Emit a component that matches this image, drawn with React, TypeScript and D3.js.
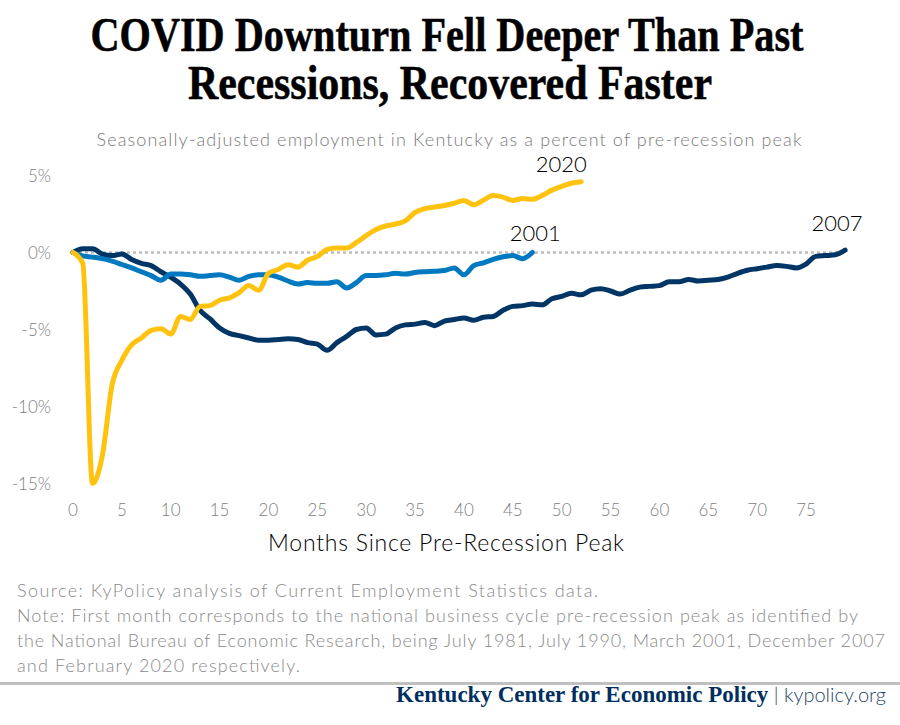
import React from "react";
import * as d3 from "d3";

const TITLE_LINES = ["COVID Downturn Fell Deeper Than Past", "Recessions, Recovered Faster"];
const SUBTITLE = "Seasonally-adjusted employment in Kentucky as a percent of pre-recession peak";
const X_TICKS = [0, 5, 10, 15, 20, 25, 30, 35, 40, 45, 50, 55, 60, 65, 70, 75];
const Y_TICKS = [5, 0, -5, -10, -15];
const X_TITLE = "Months Since Pre-Recession Peak";

const SERIES_NAMES = ["2007", "2001", "2020"];

const VALUES_2007 = [
  0, 0.25, 0.25, -0.1, -0.2, -0.1, -0.45, -0.7, -0.85, -1.25,
  -1.6, -2.05, -2.7, -3.75, -4.3, -4.9, -5.25, -5.4, -5.55, -5.7,
  -5.7, -5.65, -5.6, -5.65, -5.85, -5.95, -6.35, -5.85, -5.45, -5.0,
  -4.9, -5.35, -5.3, -4.9, -4.7, -4.65, -4.55, -4.75, -4.45, -4.35,
  -4.25, -4.4, -4.2, -4.15, -3.75, -3.5, -3.45, -3.35, -3.4, -3.0,
  -2.85, -2.65, -2.75, -2.45, -2.35, -2.5, -2.7, -2.45, -2.25, -2.2,
  -2.15, -1.9, -1.9, -1.75, -1.85, -1.8, -1.75, -1.6, -1.35, -1.15,
  -1.05, -0.95, -0.85, -0.9, -1.0, -0.75, -0.25, -0.2, -0.15, 0.15,
];

const VALUES_2001 = [
  0, -0.22, -0.3, -0.4, -0.56, -0.78, -1.0, -1.25, -1.5, -1.8,
  -1.4, -1.4, -1.45, -1.55, -1.5, -1.45, -1.6, -1.8, -1.55, -1.45,
  -1.45, -1.6, -1.85, -2.05, -1.95, -2.0, -2.0, -1.9, -2.3, -1.95,
  -1.5, -1.5, -1.45, -1.35, -1.4, -1.3, -1.25, -1.22, -1.17, -1.0,
  -1.45, -0.85, -0.67, -0.45, -0.28, -0.2, -0.4, 0.0,
];

const VALUES_2020 = [
  0, -0.7, -15.0, -13.2, -8.6, -7.0, -6.0, -5.55, -5.05, -4.95,
  -5.3, -4.15, -4.35, -3.5, -3.45, -3.1, -2.95, -2.6, -2.15, -2.45,
  -1.35, -1.1, -0.8, -0.95, -0.5, -0.26, 0.2, 0.3, 0.3, 0.65,
  1.1, 1.5, 1.72, 1.85, 2.05, 2.6, 2.85, 2.95, 3.05, 3.2,
  3.38, 3.1, 3.4, 3.7, 3.6, 3.38, 3.5, 3.45, 3.7, 4.05,
  4.3, 4.5, 4.6,
];

const SOURCE_LINES = [
  "Source: KyPolicy analysis of Current Employment Statistics data.",
  "Note: First month corresponds to the national business cycle pre-recession peak as identified by",
  "the National Bureau of Economic Research, being July 1981, July 1990, March 2001, December 2007",
  "and February 2020 respectively.",
];
const SOURCE_WIDTHS = [581, 841, 868, 283];
const BRAND = "Kentucky Center for Economic Policy";
const BRAND_URL = " | kypolicy.org";

const W = 900;
const H = 725;
const SANS = "Lato, 'Open Sans', sans-serif";
const SERIF = "'Liberation Serif', 'DejaVu Serif', serif";

export default function App() {
  const x = d3.scaleLinear().domain([0, 75]).range([73, 806]);
  const y = d3.scaleLinear().domain([-15, 5]).range([483.5, 175.5]);

  const line = d3
    .line<number>()
    .x((_, i) => x(i))
    .y((d) => y(d))
    .curve(d3.curveMonotoneX);

  const series = [
    { name: SERIES_NAMES[0], values: VALUES_2007, color: "#003565" },
    { name: SERIES_NAMES[1], values: VALUES_2001, color: "#0079C1" },
    { name: SERIES_NAMES[2], values: VALUES_2020, color: "#FFC20E" },
  ];

  const labelPos: Record<string, { dx: number; dy: number }> = {
    "2007": { dx: -8, dy: -19 },
    "2001": { dx: 3, dy: -12 },
    "2020": { dx: -20, dy: -10 },
  };

  return (
    <svg
      width={W}
      height={H}
      viewBox={`0 0 ${W} ${H}`}
      style={{ position: "absolute", left: 0, top: 0, background: "#fff" }}
    >
      <rect x={0} y={0} width={W} height={H} fill="#fff" />
      {/* Title */}
      <g transform="translate(0,51) scale(1,1.08)">
        <text
          x={447}
          y={0}
          textAnchor="middle"
          fontFamily={SERIF}
          fontWeight={700}
          fontSize={44}
          textLength={713}
          lengthAdjust="spacingAndGlyphs"
          fill="#000"
          stroke="#000"
          strokeWidth={0.5}
        >
          {TITLE_LINES[0]}
        </text>
      </g>
      <g transform="translate(0,99) scale(1,1.08)">
        <text
          x={450}
          y={0}
          textAnchor="middle"
          fontFamily={SERIF}
          fontWeight={700}
          fontSize={44}
          textLength={524}
          lengthAdjust="spacingAndGlyphs"
          fill="#000"
          stroke="#000"
          strokeWidth={0.5}
        >
          {TITLE_LINES[1]}
        </text>
      </g>
      <text
        x={449}
        y={146}
        textAnchor="middle"
        fontFamily={SANS}
        fontWeight={300}
        fontSize={18}
        textLength={705}
        lengthAdjust="spacing"
        fill="#7a7a7a"
      >
        {SUBTITLE}
      </text>

      {/* Zero line */}
      <line
        x1={x(0)}
        x2={x(79)}
        y1={y(0)}
        y2={y(0)}
        stroke="#bdbdbd"
        strokeWidth={2.5}
        strokeDasharray="3,3"
      />

      {/* Y ticks */}
      {Y_TICKS.map((t) => (
        <text
          key={t}
          x={51}
          y={y(t) + 6}
          textAnchor="end"
          fontFamily={SANS}
          fontWeight={300}
          fontSize={17}
          fill="#808080"
        >
          {`${t}%`}
        </text>
      ))}

      {/* X ticks */}
      {X_TICKS.map((t) => (
        <text
          key={t}
          x={x(t)}
          y={516}
          textAnchor="middle"
          fontFamily={SANS}
          fontWeight={300}
          fontSize={17}
          fill="#808080"
        >
          {t}
        </text>
      ))}
      <text
        x={446}
        y={551}
        textAnchor="middle"
        fontFamily={SANS}
        fontWeight={300}
        fontSize={23}
        textLength={356}
        lengthAdjust="spacing"
        fill="#000"
      >
        {X_TITLE}
      </text>

      {/* Lines */}
      {series.map((s) => (
        <path
          key={s.name}
          d={line(s.values) || ""}
          fill="none"
          stroke={s.color}
          strokeWidth={5}
          strokeLinecap="round"
          strokeLinejoin="round"
        />
      ))}
      {series.map((s) => {
        const n = s.values.length - 1;
        const p = labelPos[s.name];
        return (
          <text
            key={`l-${s.name}`}
            x={x(n) + p.dx}
            y={y(s.values[n]) + p.dy}
            textAnchor="middle"
            fontFamily={SANS}
            fontWeight={300}
            fontSize={22}
            fill="#000"
          >
            {s.name}
          </text>
        );
      })}

      {/* Footer */}
      {SOURCE_LINES.map((l, i) => (
        <text
          key={i}
          x={17}
          y={597 + i * 25}
          fontFamily={SANS}
          fontWeight={300}
          fontSize={18}
          textLength={SOURCE_WIDTHS[i]}
          lengthAdjust="spacing"
          fill="#8a8a8a"
        >
          {l}
        </text>
      ))}
      <rect x={0} y={682} width={W} height={3} fill="#c0c0c0" />
      <text x={886} y={702} textAnchor="end">
        <tspan fontFamily={SERIF} fontWeight={700} fontSize={23} fill="#002f5f">
          {BRAND}
        </tspan>
        <tspan fontFamily={SANS} fontWeight={300} fontSize={20} fill="#1f3f66">
          {BRAND_URL}
        </tspan>
      </text>
    </svg>
  );
}
